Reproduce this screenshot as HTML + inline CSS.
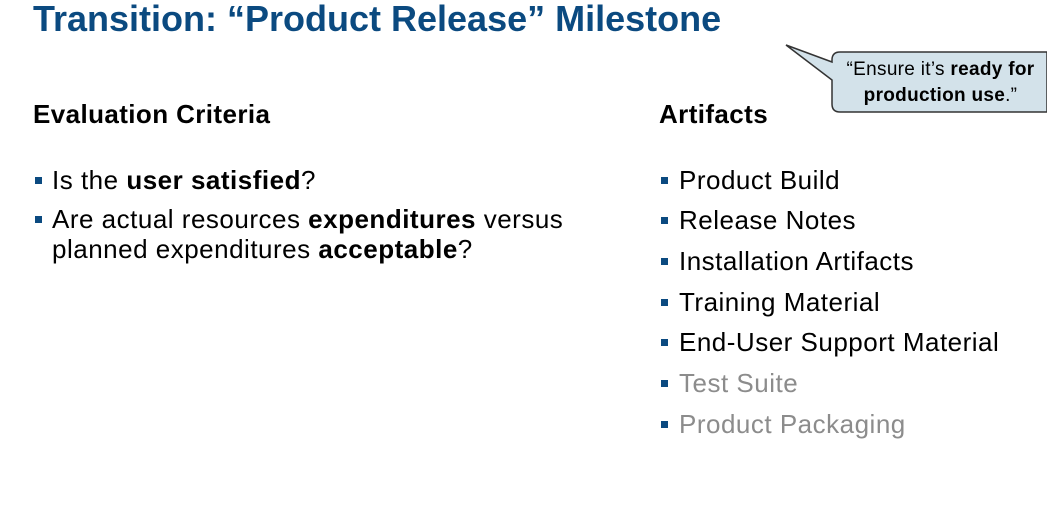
<!DOCTYPE html>
<html><head><style>
body{margin:0;width:1047px;height:531px;background:#fff;position:relative;overflow:hidden;font-family:"Liberation Sans",Arial,sans-serif;color:#000}
.t{position:absolute;white-space:nowrap}
h1{position:absolute;left:33px;top:-1px;margin:0;font-size:36px;font-weight:bold;color:#0b4a80;white-space:nowrap;line-height:40px}
.h{font-size:26px;font-weight:bold;letter-spacing:0.4px}
.b{font-size:26px;line-height:30px;letter-spacing:0.5px}
.sq{position:absolute;width:7px;height:7px;background:#0b4a80}
.g{color:#8c8c8c}
</style></head><body>
<h1>Transition: “Product Release” Milestone</h1>
<svg style="position:absolute;left:0;top:0" width="1047" height="531">
<path d="M840,52 H1047 V112 H840 Q832,112 832,104 V80 L786,45 L832,62 V60 Q832,52 840,52 Z" fill="#d3e2ea" stroke="#333" stroke-width="1.5"/>
</svg>
<div class="t" style="left:834px;top:57px;width:213px;text-align:center;font-size:19px;line-height:26px;letter-spacing:0.3px">“Ensure it’s <b>ready for<br>production use</b>.”</div>
<div class="t h" style="left:33px;top:99px">Evaluation Criteria</div>
<div class="t h" style="left:659px;top:99px">Artifacts</div>
<div class="sq" style="left:35px;top:177px"></div>
<div class="t b" style="left:52px;top:165px">Is the <b>user satisfied</b>?</div>
<div class="sq" style="left:35px;top:216px"></div>
<div class="t b" style="left:52px;top:204px">Are actual resources <b>expenditures</b> versus<br>planned expenditures <b>acceptable</b>?</div>
<div class="sq" style="left:661px;top:177px"></div><div class="t b" style="left:679px;top:165px">Product Build</div>
<div class="sq" style="left:661px;top:217px"></div><div class="t b" style="left:679px;top:205px">Release Notes</div>
<div class="sq" style="left:661px;top:258px"></div><div class="t b" style="left:679px;top:246px">Installation Artifacts</div>
<div class="sq" style="left:661px;top:299px"></div><div class="t b" style="left:679px;top:287px">Training Material</div>
<div class="sq" style="left:661px;top:339px"></div><div class="t b" style="left:679px;top:327px">End-User Support Material</div>
<div class="sq" style="left:661px;top:380px"></div><div class="t b g" style="left:679px;top:368px">Test Suite</div>
<div class="sq" style="left:661px;top:421px"></div><div class="t b g" style="left:679px;top:409px">Product Packaging</div>
</body></html>
